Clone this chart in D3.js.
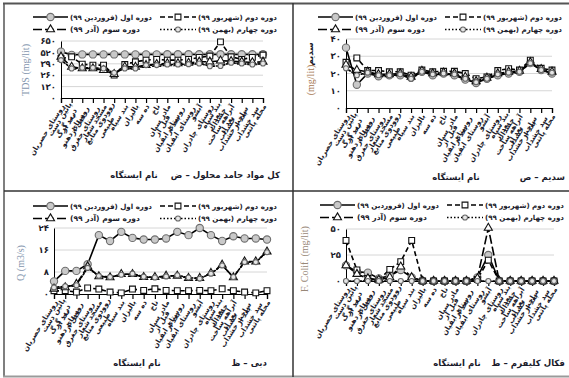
<!DOCTYPE html>
<html>
<head>
<meta charset="utf-8">
<script src="https://cdn.jsdelivr.net/npm/d3@7"></script>
<style>
  body { margin: 0; background: #fff; }
  svg { display: block; }
</style>
</head>
<body>
<svg id="chart" width="569" height="378"></svg>
<script>
// Sampling stations along the river (upstream -> downstream)
const stations = [
  "روستای حصریان", "پائین دست درب گرگ", "بعد از روستای دهنو", "قبل از روستای جغرق",
  "مسجد شعار", "روودوی منابع طبیعی", "بند سیاه", "بالیزان", "ده سه", "ناخ",
  "مادر سیان", "قبل از روستای ابقیان", "بعد از روستای ابقیان", "آبشو", "روستای چادران",
  "بند سیاه خشداب", "بعد از آبراهه ساخت خشداب", "بعد از ساخت خشداب", "بعد از سد خشداب", "محله پاتنی"
];

const seriesNames = ["دوره اول (فروردین ۹۹)", "دوره دوم (شهریور ۹۹)", "دوره سوم (آذر ۹۹)", "دوره چهارم (بهمن ۹۹)"];
const axisLabel = "نام ایستگاه";

// Total dissolved solids (mg/lit)
const tdsTicks = [0, 130, 260, 390, 520, 650];
const tdsFarvardin = [528, 492, 497, 497, 497, 497, 497, 497, 497, 497, 498, 498, 498, 498, 498, 498, 498, 498, 498, 498];
const tdsShahrivar = [451, 470, 385, 375, 375, 262, 382, 413, 432, 440, 432, 432, 440, 463, 478, 640, 470, 440, 463, 490];
const tdsAzar      = [470, 355, 337, 337, 317, 271, 355, 355, 375, 386, 394, 394, 400, 413, 413, 425, 420, 413, 405, 413];
const tdsBahman    = [432, 337, 344, 344, 337, 287, 337, 337, 375, 375, 382, 382, 386, 394, 363, 365, 402, 394, 382, 394];

// Sodium (mg/lit)
const naTicks = [0, 10, 20, 30, 40];
const naFarvardin = [35, 13.5, 20, 18.4, 19, 19, 17.5, 21, 19, 20, 19, 16.5, 14.5, 17, 19, 20, 21, 26, 22, 20];
const naShahrivar = [26.5, 29, 21.7, 21.7, 21, 21, 19, 22, 21, 21.3, 21.3, 20, 17, 18, 21.7, 22.8, 22, 27.7, 23, 22];
const naAzar      = [25, 22, 21, 19.5, 19.5, 20, 18, 21.5, 20, 20.5, 20, 18, 15.5, 17.5, 20, 21, 21.5, 26.5, 22.5, 21];
const naBahman    = [23, 19, 20.5, 19, 19, 19.5, 17, 21, 19.5, 20, 19.5, 17, 15, 17, 19.5, 20.5, 21, 26, 22, 20.5];

// Discharge Q (m3/s)
const qTicks = [0, 8, 16, 24];
const qFarvardin = [4.6, 8.4, 8.4, 10.8, 21.4, 19.3, 22.6, 20.4, 19.8, 19.8, 20.2, 22.6, 21.4, 24, 21.4, 19.3, 21, 20.2, 20.2, 19.8];
const qShahrivar = [1.2, 1.2, 0.7, 2.2, 1.8, 0.7, 0.4, 1.8, 1.3, 1.9, 1.3, 1.2, 1.2, 1.3, 1.2, 1.9, 1.2, 0.7, 0.4, 1.2];
const qAzar      = [1.9, 2.4, 3.6, 10, 6.4, 6, 7.2, 7.2, 6.1, 6.1, 6.6, 6.6, 5.8, 5.8, 7.6, 10.6, 6, 11.8, 11.8, 15.4];
const qBahman    = [2.4, 2.8, 3.2, 9.5, 6.6, 6.2, 7, 7.4, 6.3, 6, 6.4, 6.8, 6, 5.6, 7.4, 10.4, 6.2, 11.6, 11.6, 15.2];

// Fecal coliform (mg/lit)
const fcTicks = [0, 25, 50];
const fcFarvardin = [15, 9, 8, 2.5, 5, 10.6, 3.5, 0, 0, 0, 0, 0, 3.5, 25, 0, 0, 0, 0, 0, 0];
const fcShahrivar = [39, 10.6, 2.5, 1, 11.2, 18.6, 39, 0, 0, 0, 0, 0, 1.5, 20, 0, 0, 0, 0, 0, 0];
const fcAzar      = [15, 6.7, 2.5, 1, 3.5, 13.8, 3.5, 0, 0, 0, 0, 0, 2.5, 51, 0, 0, 0, 0, 0, 0];
const fcBahman    = [0, 0, 0, 0, 0, 0, 0, 0, 0, 0, 0, 0, 0, 0, 0, 0, 0, 0, 0, 0];

const FA = "'DejaVu Sans', sans-serif";
const SERIF = "'Liberation Serif', 'DejaVu Serif', serif";
const INK = "#1b1b2b";
const RLM = "\u200F";
const faDigits = n => String(n).replace(/\d/g, d => "۰۱۲۳۴۵۶۷۸۹"[+d]);

const svg = d3.select("#chart");

// Series appearance: line dash + marker symbol
const styles = [
  { dash: null,    symbol: d3.symbolCircle,   size: 42, fill: "#c9c9c9", stroke: "#6e6e6e" },
  { dash: "5,3",   symbol: d3.symbolSquare,   size: 34, fill: "#ffffff", stroke: "#111" },
  { dash: "9,3",   symbol: d3.symbolTriangle, size: 28, fill: "#ffffff", stroke: "#111" },
  { dash: "1.5,2", symbol: d3.symbolCircle,   size: 20, fill: "#e6e6e6", stroke: "#666" }
];

// Panel frames
const frame = svg.append("g").attr("fill", "none");
frame.append("line").attr("x1", 3).attr("x2", 569).attr("y1", 3.5).attr("y2", 3.5).attr("stroke", "#555").attr("stroke-width", 2);
frame.append("line").attr("x1", 4).attr("x2", 4).attr("y1", 3).attr("y2", 377).attr("stroke", "#555").attr("stroke-width", 1.5);
frame.append("line").attr("x1", 3).attr("x2", 569).attr("y1", 376.5).attr("y2", 376.5).attr("stroke", "#9a9a9a").attr("stroke-width", 2);
frame.append("line").attr("x1", 293).attr("x2", 293).attr("y1", 3).attr("y2", 377).attr("stroke", "#333").attr("stroke-width", 1.5);
frame.append("line").attr("x1", 4).attr("x2", 569).attr("y1", 191).attr("y2", 191).attr("stroke", "#333").attr("stroke-width", 1.5);

// Text helper: left-to-right base direction; Persian runs are wrapped in RLM marks so that
// parentheses and digits stay inside the right-to-left run.
function label(g, str, x, y, size, anchor, opts = {}) {
  return g.append("text")
    .attr("x", x).attr("y", y)
    .attr("text-anchor", anchor)
    .attr("dominant-baseline", "central")
    .attr("font-family", opts.family || FA)
    .attr("font-size", size)
    .attr("font-weight", opts.weight || "bold")
    .attr("fill", opts.color || INK)
    .text(opts.latin ? str : RLM + str + RLM);
}

// Shrink a text's font so that it spans the given width
function fitWidth(t, width) {
  const size = +t.attr("font-size");
  const w = t.node().getComputedTextLength();
  if (w > 0) t.attr("font-size", Math.min(size * width / w, 9.5));
  return t;
}

function drawPanel(p) {
  const g = svg.append("g");
  const x = d3.scalePoint().domain(d3.range(stations.length)).range([p.x0, p.x1]);
  const yMax = p.ticks[p.ticks.length - 1];
  const y = d3.scaleLinear().domain([0, yMax]).range([p.yBot, p.yTop]);

  // gridlines
  g.append("g").selectAll("line").data(p.ticks.filter(t => t > 0)).join("line")
    .attr("x1", p.x0).attr("x2", p.x1)
    .attr("y1", d => y(d)).attr("y2", d => y(d))
    .attr("stroke", "#d6d6d6").attr("stroke-width", 1);

  // y axis
  const yAxis = g.append("g").attr("transform", `translate(${p.x0},0)`)
    .call(d3.axisLeft(y).tickValues(p.ticks).tickSize(0).tickPadding(5).tickFormat(faDigits));
  yAxis.select(".domain").attr("stroke", "#000").attr("stroke-width", 1);
  yAxis.selectAll("text").attr("font-family", FA).attr("font-size", 8.5).attr("font-weight", "bold").attr("fill", INK);

  // x axis with category ticks
  const xAxis = g.append("g").attr("transform", `translate(0,${p.yBot})`)
    .call(d3.axisBottom(x).tickSize(5).tickFormat(""));
  xAxis.select(".domain").attr("stroke", "#000").attr("stroke-width", 1.2);
  xAxis.selectAll(".tick line").attr("stroke", "#000").attr("stroke-width", 1.2);

  // rotated station names, wrapped two words per line, centred as a block
  const labG = g.append("g");
  stations.forEach((name, i) => {
    const words = name.split(" ");
    const lines = [];
    for (let k = 0; k < words.length; k += 2) lines.push(words.slice(k, k + 2).join(" "));
    const lg = labG.append("g").attr("transform", `translate(${x(i) + 1.5},${p.yBot + 7}) rotate(-58)`);
    const lh = 7.6;
    const texts = lines.map((ln, j) => label(lg, ln, 0, (j - (lines.length - 1) / 2) * lh, 7.2, "middle"));
    const W = d3.max(texts, t => t.node().getComputedTextLength());
    texts.forEach(t => t.attr("x", -W / 2));
  });

  // series lines and markers
  const line = d3.line().x((d, i) => x(i)).y(d => y(d));
  p.series.forEach((vals, s) => {
    const st = styles[s];
    g.append("path").datum(vals)
      .attr("d", line).attr("fill", "none")
      .attr("stroke", "#000").attr("stroke-width", 1.6)
      .attr("stroke-dasharray", st.dash)
      .attr("stroke-linecap", s === 3 ? "round" : "butt");
  });
  p.series.forEach((vals, s) => {
    const st = styles[s];
    g.append("g").selectAll("path").data(vals).join("path")
      .attr("transform", (d, i) => `translate(${x(i)},${y(d)})`)
      .attr("d", d3.symbol().type(st.symbol).size(st.size))
      .attr("fill", st.fill).attr("stroke", st.stroke).attr("stroke-width", 1.1);
  });

  // legend (2 x 2)
  const lgd = g.append("g");
  const cols = [[p.lx, p.lx + 35, p.lx + 37], [p.lx + 127, p.lx + 163, p.lx + 165]];
  const order = [[0, 0, 0], [1, 1, 0], [2, 0, 1], [3, 1, 1]];
  const textW = [82, 79, 70, 79];
  order.forEach(([s, c, r]) => {
    const st = styles[s];
    const [a, b, tx] = cols[c];
    const ly = p.ly + r * 12.5;
    lgd.append("line").attr("x1", a).attr("x2", b).attr("y1", ly).attr("y2", ly)
      .attr("stroke", "#000").attr("stroke-width", 1.6).attr("stroke-dasharray", st.dash);
    lgd.append("path").attr("transform", `translate(${(a + b) / 2},${ly})`)
      .attr("d", d3.symbol().type(st.symbol).size(st.size))
      .attr("fill", st.fill).attr("stroke", st.stroke).attr("stroke-width", 1.1);
    fitWidth(label(lgd, seriesNames[s], tx, ly, 9, "start"), textW[s]);
  });

  // axis title and panel caption (letter and dash sit to the left of the caption)
  p.yTitle(g);
  label(g, axisLabel, p.axisLabelX, p.captionY, 8.6, "middle");
  const cap = label(g, p.caption, p.captionRight, p.captionY, 8.6, "end");
  const capW = cap.node().getComputedTextLength();
  label(g, p.letter + " –", p.captionRight - capW - 3, p.captionY, 8.6, "end", { latin: true });
}

function yTitle(g, str, cx, cy, color, persian) {
  const rg = g.append("g").attr("transform", `translate(${cx},${cy}) rotate(-90)`);
  if (persian) return label(rg, str, 0, 0, 8.5, "middle");
  return label(rg, str, 0, 0, 10, "middle", { latin: true, family: SERIF, weight: "normal", color });
}

const panels = [
  {
    series: [tdsFarvardin, tdsShahrivar, tdsAzar, tdsBahman], ticks: tdsTicks,
    x0: 61, x1: 263, yTop: 41, yBot: 98, lx: 33, ly: 17,
    axisLabelX: 134, captionRight: 280, captionY: 175, caption: "کل مواد جامد محلول", letter: "ض",
    yTitle: g => yTitle(g, "TDS (mg/lit)", 25, 70, "#8496ae")
  },
  {
    series: [naFarvardin, naShahrivar, naAzar, naBahman], ticks: naTicks,
    x0: 346, x1: 552, yTop: 39, yBot: 108, lx: 318, ly: 17,
    axisLabelX: 456, captionRight: 565, captionY: 177, caption: "سدیم", letter: "ص",
    yTitle: g => {
      yTitle(g, "(mg/lit)", 310, 80, "#a87a55");
      yTitle(g, "سدیم", 310, 54, INK, true);
    }
  },
  {
    series: [qFarvardin, qShahrivar, qAzar, qBahman], ticks: qTicks,
    x0: 54, x1: 267, yTop: 228, yBot: 294, lx: 33, ly: 206,
    axisLabelX: 137, captionRight: 267, captionY: 363, caption: "دبی", letter: "ظ",
    yTitle: g => yTitle(g, "Q (m3/s)", 20, 263, "#8496ae")
  },
  {
    series: [fcFarvardin, fcShahrivar, fcAzar, fcBahman], ticks: fcTicks,
    x0: 346, x1: 554, yTop: 229, yBot: 281, lx: 320, ly: 205,
    axisLabelX: 457, captionRight: 565, captionY: 363, caption: "فکال کلیفرم", letter: "ط",
    yTitle: g => yTitle(g, "F. Colif. (mg/lit)", 304, 259, "#988878")
  }
];

panels.forEach(drawPanel);
</script>
</body>
</html>
